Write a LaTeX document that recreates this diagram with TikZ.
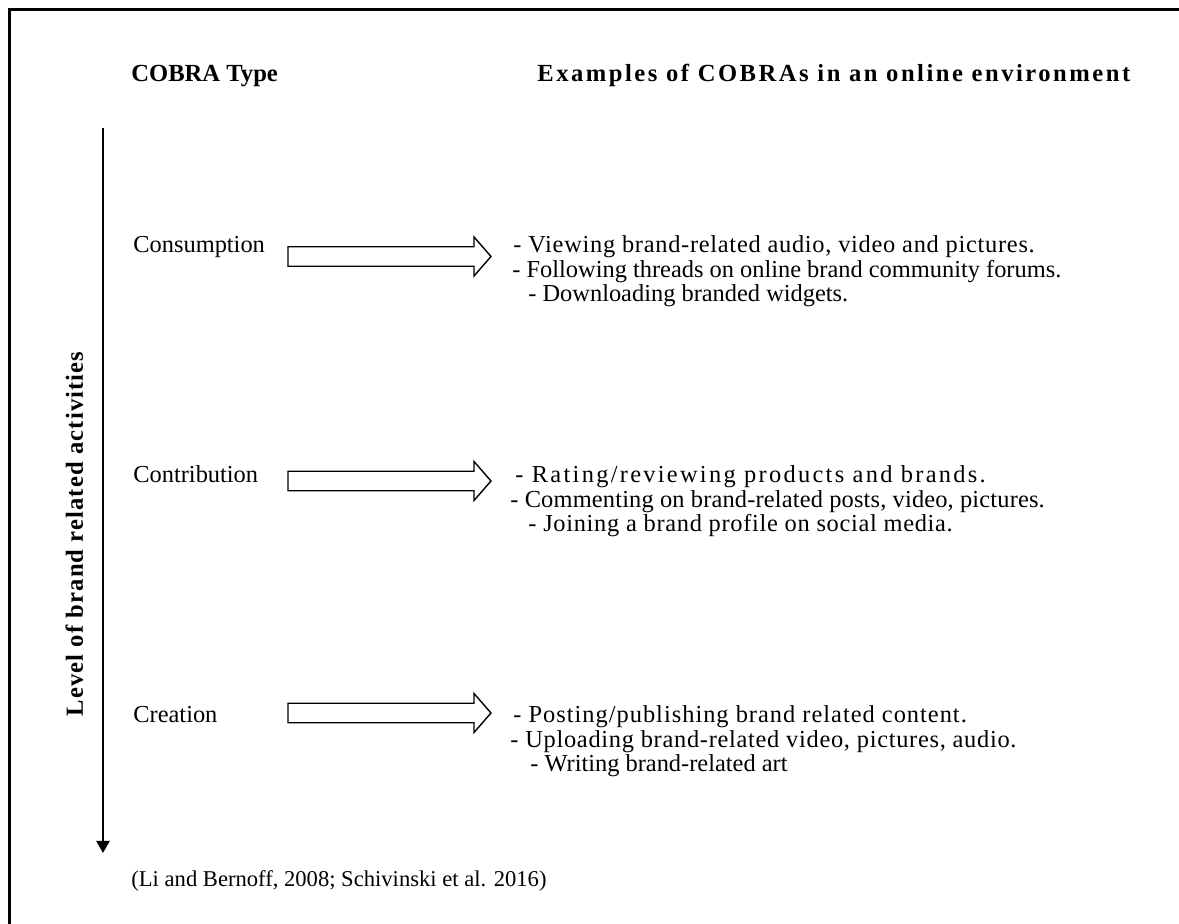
\documentclass[tikz,border=0pt]{standalone}
\usepackage{fontspec}
\setmainfont{Liberation Serif}
\usetikzlibrary{arrows.meta}
\tikzset{
  txt/.style={anchor=base west, inner sep=0pt, font=\fontsize{12.2pt}{12.5pt}\selectfont},
  hdr/.style={anchor=base west, inner sep=0pt, font=\fontsize{12.3pt}{12.5pt}\selectfont\bfseries},
  blockarrow/.style={draw=black, line width=0.7pt, fill=white, line join=miter},
  frame/.style={line width=1.3pt},
  levelarrow/.style={line width=1.1pt, -{Triangle[length=6pt,width=6.5pt]}}
}
\newcommand{\ls}[1]{\addfontfeature{LetterSpace=#1}}
\newcommand{\myblockarrow}[1]{%
  \draw[blockarrow] (288,#1-9.75) -- (474,#1-9.75) -- (474,#1-19.5) -- (491,#1)
    -- (474,#1+19.5) -- (474,#1+9.75) -- (288,#1+9.75) -- cycle;}
\begin{document}
\begin{tikzpicture}[x=0.5pt,y=-0.5pt]
\useasboundingbox (0,0) rectangle (1179,924);
% frame (only top and left edges visible)
\draw[frame] (9.5,924) -- (9.5,9.5) -- (1179,9.5);

% headers
\node[hdr] (h1) at (131,82) {COBRA Type};
\node[hdr] (h2) at (537,82) {\ls{10.2}Examples of COBRAs in an online environment};

% vertical level arrow
\coordinate (ltop) at (103,128);
\coordinate (lbot) at (103,853);
\draw[levelarrow] (ltop) -- (lbot);
\node[anchor=base, inner sep=0pt, rotate=90, font=\fontsize{12.3pt}{12.5pt}\selectfont\bfseries] (lvl) at (83,534) {\ls{4.6}Level of brand related activities};

% Consumption
\node[txt] (cons) at (133,253) {Consumption};
\myblockarrow{256.5}
\node[txt] (c1) at (513,253) {\ls{2.95}- Viewing brand-related audio, video and pictures.};
\node[txt] (c2) at (512,278) {- Following threads on online brand community forums.};
\node[txt] (c3) at (528,302) {- Downloading branded widgets.};

% Contribution
\node[txt] (cont) at (133,483) {Contribution};
\myblockarrow{481}
\node[txt] (d1) at (515,483) {\ls{9.4}- Rating/reviewing products and brands.};
\node[txt] (d2) at (510,508) {\ls{0.7}- Commenting on brand-related posts, video, pictures.};
\node[txt] (d3) at (528,532) {\ls{2.8}- Joining a brand profile on social media.};

% Creation
\node[txt] (crea) at (133,723) {Creation};
\myblockarrow{713}
\node[txt] (e1) at (513,723) {\ls{4.1}- Posting/publishing brand related content.};
\node[txt] (e2) at (510,748) {\ls{2.9}- Uploading brand-related video, pictures, audio.};
\node[txt] (e3) at (530,772) {- Writing brand-related art};

% citation
\node[anchor=base west, inner sep=0pt, font=\fontsize{11.3pt}{12pt}\selectfont] (cite) at (131,886) {(Li and Bernoff, 2008; Schivinski et al. 2016)};
\end{tikzpicture}
\end{document}
